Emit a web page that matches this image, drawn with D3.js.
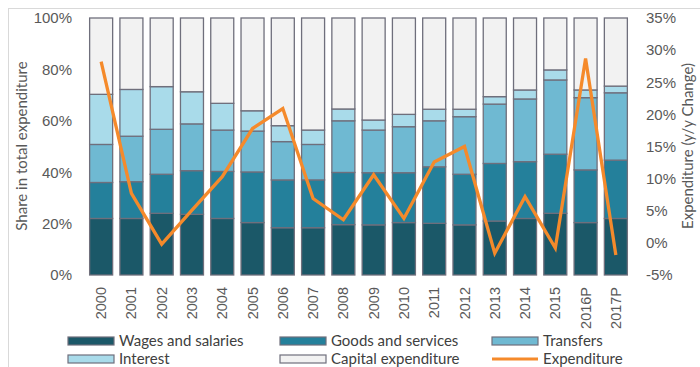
<!DOCTYPE html>
<html>
<head>
<meta charset="utf-8">
<script src="https://cdn.jsdelivr.net/npm/d3@7"></script>
<style>
  html, body { margin: 0; padding: 0; background: #fff; }
  svg { display: block; font-family: Lato, "Open Sans", sans-serif; }
</style>
</head>
<body>
<svg id="chart" width="700" height="367"></svg>
<script>
// Years on the category axis
const years = ["2000","2001","2002","2003","2004","2005","2006","2007","2008",
               "2009","2010","2011","2012","2013","2014","2015","2016P","2017P"];

// Shares of total expenditure (%) by component
const wages     = [22.0, 22.0, 24.0, 23.6, 22.0, 20.4, 18.4, 18.4, 19.6, 19.5, 20.4, 20.1, 19.5, 21.0, 22.0, 24.0, 20.4, 22.0];
const goods     = [14.0, 14.3, 15.2, 17.0, 18.3, 19.7, 18.6, 18.6, 20.3, 20.3, 19.4, 22.0, 19.7, 22.4, 22.1, 23.0, 20.5, 22.7];
const transfers = [14.8, 17.7, 17.5, 18.2, 16.1, 15.9, 14.9, 13.8, 20.1, 16.6, 17.9, 17.9, 22.4, 23.1, 24.4, 28.9, 28.1, 26.2];
const interest  = [19.5, 18.2, 16.6, 12.5, 10.4,  7.9,  6.2,  5.6,  4.6,  3.9,  4.8,  4.5,  2.9,  2.9,  3.5,  3.9,  3.0,  2.6];
const capital   = [29.7, 27.8, 26.7, 28.7, 33.2, 36.1, 41.9, 43.6, 35.4, 39.7, 37.5, 35.5, 35.5, 30.6, 28.0, 20.2, 28.0, 26.5];

// Expenditure growth, y/y change (%)
const expenditure = [28.2, 7.7, -0.2, 5.1, 10.3, 17.8, 20.9, 6.9, 3.6, 10.6, 3.8, 12.6, 15.0, -1.6, 7.2, -0.8, 28.7, -1.9];

// Axis tick labels
const leftTicks  = [0, 20, 40, 60, 80, 100];
const rightTicks = [-5, 0, 5, 10, 15, 20, 25, 30, 35];

const seriesNames  = ["Wages and salaries", "Goods and services", "Transfers", "Interest", "Capital expenditure"];
const seriesValues = [wages, goods, transfers, interest, capital];
const seriesColors = ["#1b5868", "#24809b", "#6fb9d2", "#a9dbea", "#f2f2f2"];
const lineColor = "#f58a2b";
const strokeGray = "#6f6f7c";

const svg = d3.select("#chart");

// Light frame around the chart
svg.append("rect")
  .attr("x", 8.5).attr("y", 8.5).attr("width", 700).attr("height", 370)
  .attr("fill", "none").attr("stroke", "#d9d9d9").attr("stroke-width", 1);

const plot = { left: 86, right: 631, top: 18, bottom: 275 };

const x = d3.scaleBand()
  .domain(years)
  .range([plot.left, plot.right])
  .paddingInner(0.24)
  .paddingOuter(0.12);

const yL = d3.scaleLinear().domain([0, 100]).range([plot.bottom, plot.top]);
const yR = d3.scaleLinear().domain([-5, 35]).range([plot.bottom, plot.top]);

// Build stacked layout table
const table = years.map((yr, i) => {
  const row = { year: yr };
  seriesNames.forEach((n, k) => { row[n] = seriesValues[k][i]; });
  return row;
});
const stacked = d3.stack().keys(seriesNames)(table);

const g = svg.append("g");
stacked.forEach((layer, k) => {
  g.selectAll(null)
    .data(layer)
    .join("rect")
    .attr("x", d => x(d.data.year))
    .attr("width", x.bandwidth())
    .attr("y", d => yL(d[1]))
    .attr("height", d => yL(d[0]) - yL(d[1]))
    .attr("fill", seriesColors[k])
    .attr("stroke", strokeGray)
    .attr("stroke-width", 1.3);
});

// Left axis
const axisText = "#595959";
const leftAxis = svg.append("g")
  .attr("transform", `translate(${plot.left - 12},0)`)
  .call(d3.axisLeft(yL).tickValues(leftTicks).tickFormat(d => d + "%").tickSize(0));
leftAxis.select(".domain").remove();
leftAxis.selectAll("text").attr("fill", axisText).style("font-size", "15px").attr("x", -2);

// Right axis
const rightAxis = svg.append("g")
  .attr("transform", `translate(${plot.right + 12},0)`)
  .call(d3.axisRight(yR).tickValues(rightTicks).tickFormat(d => d + "%").tickSize(0));
rightAxis.select(".domain").remove();
rightAxis.selectAll("text").attr("fill", axisText).style("font-size", "15px").attr("x", 3);

// Category axis, rotated labels
const bottomAxis = svg.append("g")
  .attr("transform", `translate(0,${plot.bottom})`)
  .call(d3.axisBottom(x).tickSize(0));
bottomAxis.select(".domain").remove();
bottomAxis.selectAll("text")
  .attr("fill", axisText)
  .style("font-size", "14.5px")
  .attr("transform", "rotate(-90)")
  .attr("text-anchor", "end")
  .attr("x", -12)
  .attr("y", 0)
  .attr("dy", "0.35em");

// Axis titles
svg.append("text")
  .attr("transform", `translate(27,146) rotate(-90)`)
  .attr("text-anchor", "middle")
  .attr("fill", axisText)
  .style("font-size", "15px")
  .text("Share in total expenditure");

svg.append("text")
  .attr("transform", `translate(693,146) rotate(-90)`)
  .attr("text-anchor", "middle")
  .attr("fill", axisText)
  .style("font-size", "15px")
  .text("Expenditure (y/y Change)");

// Expenditure growth line
const line = d3.line()
  .x((d, i) => x(years[i]) + x.bandwidth() / 2)
  .y(d => yR(d));
svg.append("path")
  .datum(expenditure)
  .attr("d", line)
  .attr("fill", "none")
  .attr("stroke", lineColor)
  .attr("stroke-width", 3.3)
  .attr("stroke-linejoin", "miter");

// Legend
const legendItems = [
  { name: "Wages and salaries",  type: "box",  color: seriesColors[0], x: 68,  y: 341 },
  { name: "Goods and services",  type: "box",  color: seriesColors[1], x: 280, y: 341 },
  { name: "Transfers",           type: "box",  color: seriesColors[2], x: 492, y: 341 },
  { name: "Interest",            type: "box",  color: seriesColors[3], x: 68,  y: 359 },
  { name: "Capital expenditure", type: "box",  color: seriesColors[4], x: 280, y: 359 },
  { name: "Expenditure",         type: "line", color: lineColor,       x: 492, y: 359 }
];
const lg = svg.append("g");
legendItems.forEach(it => {
  if (it.type === "box") {
    lg.append("rect")
      .attr("x", it.x).attr("y", it.y - 4).attr("width", 46).attr("height", 8)
      .attr("fill", it.color).attr("stroke", strokeGray).attr("stroke-width", 1.2);
  } else {
    lg.append("line")
      .attr("x1", it.x).attr("x2", it.x + 46).attr("y1", it.y).attr("y2", it.y)
      .attr("stroke", it.color).attr("stroke-width", 3);
  }
  lg.append("text")
    .attr("x", it.x + 51).attr("y", it.y).attr("dy", "0.35em")
    .attr("fill", "#404040")
    .style("font-size", "15px")
    .text(it.name);
});
</script>
</body>
</html>
